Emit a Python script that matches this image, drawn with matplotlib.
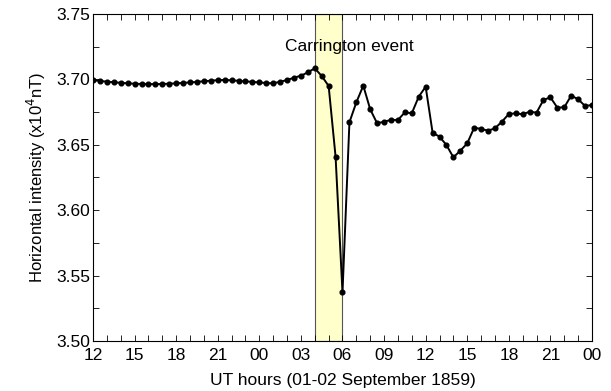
import numpy as np
import matplotlib.pyplot as plt
from matplotlib.ticker import MultipleLocator, FuncFormatter

plt.rcParams["font.family"] = ["Liberation Sans", "DejaVu Sans"]

# hours counted from 00 UT on 01 September 1859, sampled every half hour
hours = np.arange(12.0, 48.01, 0.5)

h_intensity = [
    3.6995, 3.6988, 3.6983, 3.6978, 3.6974, 3.6970, 3.6967, 3.6965,
    3.6964, 3.6964, 3.6965, 3.6967, 3.6970, 3.6973, 3.6977, 3.6981,
    3.6986, 3.6990, 3.6994, 3.6996, 3.6993, 3.6989, 3.6985, 3.6981,
    3.6977, 3.6972, 3.6970, 3.6982, 3.6995, 3.7013, 3.7028, 3.7054,
    3.7085, 3.7026, 3.6950, 3.6410, 3.5372, 3.6672, 3.6825, 3.6952,
    3.6771, 3.6664, 3.6677, 3.6690, 3.6690, 3.6748, 3.6741, 3.6868,
    3.6944, 3.6593, 3.6562, 3.6498, 3.6404, 3.6455, 3.6511, 3.6631,
    3.6621, 3.6608, 3.6626, 3.6677, 3.6735, 3.6741, 3.6733, 3.6753,
    3.6746, 3.6843, 3.6863, 3.6784, 3.6787, 3.6876, 3.6848, 3.6797,
    3.6804,
]

event_start, event_end = 28.0, 30.0

fig = plt.figure(figsize=(6.11, 3.91), dpi=100)
ax = fig.add_axes([0.1522, 0.1279, 0.8167, 0.8363])

ax.axvspan(event_start, event_end, facecolor="#ffffcc", edgecolor="#555555", linewidth=0.8, zorder=1)
ax.plot(hours, h_intensity, "k-", linewidth=1.4, marker="o", markersize=3.4, zorder=3)
ax.text(30.5, 3.7255, "Carrington event", ha="center", va="center", fontsize=12.5, zorder=4)

ax.set_xlim(12, 48)
ax.set_ylim(3.50, 3.75)
ax.xaxis.set_major_locator(MultipleLocator(3))
ax.xaxis.set_minor_locator(MultipleLocator(1))
ax.xaxis.set_major_formatter(FuncFormatter(lambda v, pos: "%02d" % (int(round(v)) % 24)))
ax.yaxis.set_major_locator(MultipleLocator(0.05))
ax.yaxis.set_minor_locator(MultipleLocator(0.025))
ax.yaxis.set_major_formatter(FuncFormatter(lambda v, pos: "%.2f" % v))

ax.tick_params(which="both", direction="in", top=True, right=True, length=4, width=0.6,
               labelsize=12.5)
ax.tick_params(axis="x", pad=5)
ax.tick_params(axis="y", pad=2)
for s in ax.spines.values():
    s.set_linewidth(0.8)

ax.set_xlabel("UT hours (01-02 September 1859)", fontsize=12.5, labelpad=7)
ax.set_ylabel(r"Horizontal intensity (x10$^4$nT)", fontsize=12, labelpad=6)

fig.savefig("out.png", dpi=100)
